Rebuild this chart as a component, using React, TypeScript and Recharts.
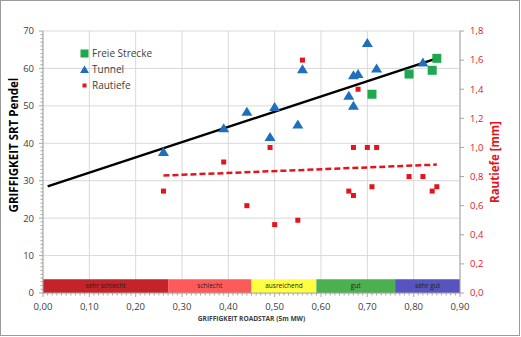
import * as React from 'react';
import {
    CartesianGrid,
    ComposedChart,
    Label,
    Legend,
    Line,
    ReferenceArea,
    Scatter,
    XAxis,
    YAxis
} from 'recharts';

// axes
const xMajor = [0, 0.1, 0.2, 0.3, 0.4, 0.5, 0.6, 0.7, 0.8, 0.9];
const xMinor = Array.from({ length: 91 }, (_, i) => i / 100);
const leftMajor = [0, 10, 20, 30, 40, 50, 60, 70];
const leftMinor = Array.from({ length: 71 }, (_, i) => i);
const rightTicks = [0, 0.2, 0.4, 0.6, 0.8, 1.0, 1.2, 1.4, 1.6, 1.8];

// series
const freieX = [0.71, 0.79, 0.84, 0.85];
const freieY = [53.1, 58.5, 59.5, 62.7];

const tunnelX = [0.26, 0.39, 0.44, 0.49, 0.50, 0.55, 0.56, 0.66, 0.67, 0.67, 0.68, 0.70, 0.72, 0.82];
const tunnelY = [37.7, 44.0, 48.4, 41.7, 49.7, 45.0, 59.8, 52.7, 50.0, 58.2, 58.5, 66.8, 60.0, 61.6];

const rautiefeX = [0.26, 0.39, 0.44, 0.49, 0.50, 0.55, 0.56, 0.66, 0.67, 0.67, 0.68, 0.70, 0.71, 0.72, 0.79, 0.82, 0.84, 0.85];
const rautiefeY = [0.70, 0.90, 0.60, 1.00, 0.47, 0.50, 1.60, 0.70, 0.67, 1.00, 1.40, 1.00, 0.73, 1.00, 0.80, 0.80, 0.70, 0.73];

// trend lines
const srtTrendX = [0.01, 0.85];
const srtTrendY = [28.5, 62.7];
const rtTrendX = [0.26, 0.85];
const rtTrendY = [0.807, 0.882];

// rating bands
const bandNames = ['sehr schlecht', 'schlecht', 'ausreichend', 'gut', 'sehr gut'];
const bandFrom = [0, 0.27, 0.45, 0.59, 0.76];
const bandTo = [0.27, 0.45, 0.59, 0.76, 0.9];
const bandTop = 3.7;
const bandColors = ['#c4232a', '#ff5a5a', '#ffff40', '#4caf50', '#5654bf'];

const seriesNames = ['Freie Strecke', 'Tunnel', 'Rautiefe'];

const toPoints = (xs: number[], ys: number[]) => xs.map((x, i) => ({ x, y: ys[i] }));

const freieData = toPoints(freieX, freieY);
const tunnelData = toPoints(tunnelX, tunnelY);
const rautiefeData = toPoints(rautiefeX, rautiefeY);
const srtTrend = toPoints(srtTrendX, srtTrendY);
const rtTrend = toPoints(rtTrendX, rtTrendY);

const FONT = '"Open Sans", sans-serif';
const TUNNEL = '#1f6fbf';
const FREIE = '#1fa84f';
const RED = '#e4141c';

const comma = (v: number, d: number) => v.toFixed(d).replace('.', ',');

const isMajor = (v: number, step: number) => Math.abs(v / step - Math.round(v / step)) < 1e-6;

const XTick = (props: any) => {
    const { x, y, payload } = props;
    const major = isMajor(payload.value, 0.1);
    return (
        <g>
            <line x1={x} x2={x} y1={y} y2={y + (major ? 4 : 2.5)} stroke="#a6a6a6" />
            {major && (
                <text x={x} y={y + 13.5} dy="0.355em" textAnchor="middle" fontSize={9.5} fill="#404040" fontFamily={FONT}>
                    {comma(payload.value, 2)}
                </text>
            )}
        </g>
    );
};

const LeftTick = (props: any) => {
    const { x, y, payload } = props;
    const major = isMajor(payload.value, 10);
    return (
        <g>
            <line x1={x - (major ? 4 : 2.5)} x2={x} y1={y} y2={y} stroke="#a6a6a6" />
            {major && (
                <text x={x - 9} y={y} dy="0.355em" textAnchor="end" fontSize={9.5} fill="#404040" fontFamily={FONT}>
                    {payload.value}
                </text>
            )}
        </g>
    );
};

const Triangle = (props: any) => {
    const { cx, cy } = props;
    return <polygon points={`${cx},${cy - 5} ${cx + 5.5},${cy + 4} ${cx - 5.5},${cy + 4}`} fill={TUNNEL} />;
};

const GreenSquare = (props: any) => {
    const { cx, cy } = props;
    return <rect x={cx - 4.5} y={cy - 4.5} width={9} height={9} fill={FREIE} />;
};

const RedSquare = (props: any) => {
    const { cx, cy } = props;
    return <rect x={cx - 2.5} y={cy - 2.5} width={5} height={5} fill={RED} />;
};

const legendIcon = (name: string) => {
    if (name === 'Tunnel') return <polygon points="4.5,0.5 9,8 0,8" fill={TUNNEL} />;
    if (name === 'Freie Strecke') return <rect x={0.5} y={0.5} width={8} height={8} fill={FREIE} />;
    return <rect x={2.5} y={2.5} width={4} height={4} fill={RED} />;
};

const renderLegend = () => (
    <div style={{ fontFamily: FONT, fontSize: 10, color: '#404040' }}>
        {seriesNames.map((name) => (
            <div key={name} style={{ display: 'flex', alignItems: 'center', height: 16 }}>
                <svg width={9} height={9} style={{ marginRight: 3 }}>
                    {legendIcon(name)}
                </svg>
                <span>{name}</span>
            </div>
        ))}
    </div>
);

const LeftTitle = (props: any) => {
    const { viewBox } = props;
    const cx = viewBox.x + 14;
    const cy = viewBox.y + viewBox.height / 2 - 17;
    return (
        <text x={cx} y={cy} transform={`rotate(-90 ${cx} ${cy})`} textAnchor="middle" dy="0.355em"
            fontSize={11.5} fontWeight="bold" fill="#000" fontFamily={FONT}>
            GRIFFIGKEIT SRT Pendel
        </text>
    );
};

const RightTitle = (props: any) => {
    const { viewBox } = props;
    const cx = viewBox.x + 35;
    const cy = viewBox.y + viewBox.height / 2;
    return (
        <text x={cx} y={cy} transform={`rotate(-90 ${cx} ${cy})`} textAnchor="middle" dy="0.355em"
            fontSize={11.5} fontWeight="bold" fill={RED} fontFamily={FONT}>
            Rautiefe [mm]
        </text>
    );
};

const BottomTitle = (props: any) => {
    const { viewBox } = props;
    return (
        <text x={viewBox.x + viewBox.width / 2} y={viewBox.y + 26} dy="0.355em" textAnchor="middle"
            fontSize={6.6} fontWeight="bold" fill="#404040" fontFamily={FONT}>
            GRIFFIGKEIT ROADSTAR (5m MW)
        </text>
    );
};

export default function App() {
    return (
        <div style={{ position: 'absolute', left: 0, top: 0, width: 521, height: 337, background: '#fff' }}>
            <ComposedChart width={521} height={337} margin={{ top: 31, right: 0, bottom: 0, left: 0 }}>
                <CartesianGrid stroke="#d9d9d9" verticalValues={xMajor} horizontalValues={leftMajor} />
                <XAxis dataKey="x" type="number" domain={[0, 0.9]} ticks={xMinor} interval={0} height={44}
                    tick={<XTick />} tickLine={false} tickSize={0} tickMargin={0} stroke="#a6a6a6" allowDataOverflow>
                    <Label content={<BottomTitle />} />
                </XAxis>
                <YAxis dataKey="y" type="number" domain={[0, 70]} ticks={leftMinor} interval={0} width={43}
                    tick={<LeftTick />} tickLine={false} tickSize={0} tickMargin={0} stroke="#a6a6a6" allowDataOverflow>
                    <Label content={<LeftTitle />} />
                </YAxis>
                <YAxis yAxisId="right" orientation="right" dataKey="y" type="number" domain={[0, 1.8]} ticks={rightTicks}
                    interval={0} width={61} tickFormatter={(v: number) => comma(v, 1)} tickSize={4} tickMargin={6}
                    tick={{ fill: RED, fontSize: 9.5, fontFamily: FONT }} stroke="#a6a6a6" allowDataOverflow>
                    <Label content={<RightTitle />} />
                </YAxis>
                {bandNames.map((name, i) => (
                    <ReferenceArea key={name} x1={bandFrom[i]} x2={bandTo[i]} y1={0} y2={bandTop}
                        fill={bandColors[i]} fillOpacity={1} stroke="none"
                        label={{ value: name, position: 'center', fontSize: 6.5, fill: '#222', fontFamily: FONT }} />
                ))}
                <Line data={srtTrend} dataKey="y" stroke="#000" strokeWidth={2.5} dot={false}
                    legendType="none" isAnimationActive={false} />
                <Line data={rtTrend} dataKey="y" yAxisId="right" stroke={RED} strokeWidth={2.5} strokeDasharray="6 3"
                    dot={false} legendType="none" isAnimationActive={false} />
                <Scatter name={seriesNames[2]} data={rautiefeData} yAxisId="right" shape={<RedSquare />} isAnimationActive={false} />
                <Scatter name={seriesNames[1]} data={tunnelData} shape={<Triangle />} isAnimationActive={false} />
                <Scatter name={seriesNames[0]} data={freieData} shape={<GreenSquare />} isAnimationActive={false} />
                <Legend content={renderLegend} layout="vertical" align="center" verticalAlign="middle"
                    wrapperStyle={{ left: 80, top: 45, width: 'auto' }} />
            </ComposedChart>
            <div style={{ position: 'absolute', left: 0, top: 0, width: 520, height: 336, boxSizing: 'border-box', border: '1px solid #9a9a9a', pointerEvents: 'none' }} />
        </div>
    );
}
